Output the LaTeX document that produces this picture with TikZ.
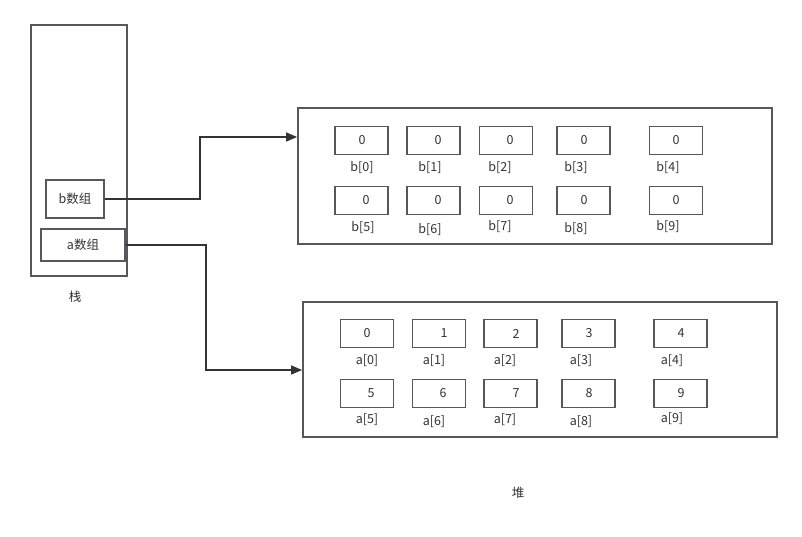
\documentclass[tikz,border=0pt]{standalone}
\usepackage{fontspec}
\setmainfont{Noto Sans CJK SC}
\usetikzlibrary{arrows.meta}
\definecolor{boxline}{HTML}{55585D}
\definecolor{txt}{HTML}{333333}
\tikzset{
  box/.style={draw=boxline, line width=1.8pt, inner sep=0pt},
  cell/.style={box, minimum width=53pt, minimum height=28pt},
  lbl/.style={text=txt, font=\fontsize{12.5}{14}\selectfont, inner sep=0pt},
  conn/.style={draw=txt, line width=1.3pt, -{Triangle[length=11pt,width=9pt]}},
}
\begin{document}
\begin{tikzpicture}[x=1pt,y=-1pt]
\useasboundingbox[fill=white] (0,0) rectangle (802,537);
% stack
\node[box, minimum width=96pt, minimum height=251pt] (stack) at (79,150.5) {};
\node[box, minimum width=58pt, minimum height=38pt] (bstk) at (75,199) {};
\node[lbl] at (75,199) {b数组};
\node[box, minimum width=84pt, minimum height=32pt] (astk) at (83,245) {};
\node[lbl] at (83,245) {a数组};
\node[lbl] (stacklbl) at (75,297) {栈};
% heap boxes
\node[box, minimum width=474pt, minimum height=136pt] (bheap) at (535,176) {};
\node[box, minimum width=474pt, minimum height=135pt] (aheap) at (540,369.5) {};
\node[lbl] (heaplbl) at (518,493) {堆};
% b cells
\foreach \i/\cx/\cy/\tx/\lx/\ly in {
  0/361.5/140.5/362/362/168, 1/433.5/140.5/438/430/168, 2/506/140.5/510/500/168,
  3/583.5/140.5/584/576/168, 4/676/140.5/676/668/168,
  5/361.5/200.5/366/363/228, 6/433.5/200.5/438/430/230, 7/506/200.5/510/500/227,
  8/583.5/200.5/584/576/229, 9/676/200.5/676/668/227}{
  \node[cell] (b\i) at (\cx,\cy) {};
  \node[lbl] at (\tx,\cy) {0};
  \node[lbl] at (\lx,\ly) {b[\i]};
}
% a cells
\foreach \i/\cx/\cy/\tx/\lx/\ly in {
  0/367/333.5/367/367/361, 1/439/333.5/444/434/361, 2/510.5/333.5/516/505/361,
  3/588.5/333.5/589/581/361, 4/680.5/333.5/681/672/361,
  5/367/393.5/371/367/420, 6/439/393.5/443/434/422, 7/510.5/393.5/516/505/420,
  8/588.5/393.5/589/581/422, 9/680.5/393.5/681/672/419}{
  \node[cell] (a\i) at (\cx,\cy) {};
  \node[lbl] at (\tx,\cy) {\i};
  \node[lbl] at (\lx,\ly) {a[\i]};
}
% connectors
\coordinate (bin) at (bheap.west |- 0,137);
\coordinate (ain) at (aheap.west |- 0,370);
\draw[conn] (bstk.east) -- (200,199) |- (bin);
\draw[conn] (astk.east) -- (206,245) |- (ain);
\end{tikzpicture}
\end{document}
